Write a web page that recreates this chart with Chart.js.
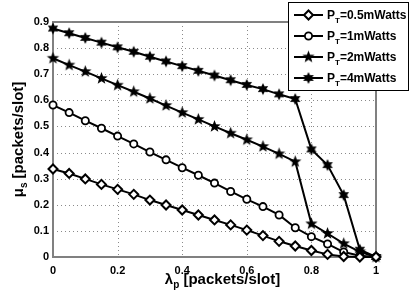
<!DOCTYPE html>
<html>
<head>
<meta charset="utf-8">
<script src="https://cdn.jsdelivr.net/npm/chart.js@4.4.1/dist/chart.umd.min.js"></script>
<style>
  html, body { margin: 0; padding: 0; background: #fff; }
  #wrap { width: 415px; height: 296px; }
</style>
</head>
<body>
<div id="wrap"><canvas id="c" width="415" height="296"></canvas></div>
<script>
// arrival rate of the primary user (x axis)
const lambdaP = [0, 0.05, 0.1, 0.15, 0.2, 0.25, 0.3, 0.35, 0.4, 0.45, 0.5,
  0.55, 0.6, 0.65, 0.7, 0.75, 0.8, 0.85, 0.9, 0.95, 1];

// service rate of the secondary user, one list per transmit power
const mu05 = [0.337, 0.320, 0.299, 0.278, 0.259, 0.240, 0.218, 0.199, 0.180, 0.161, 0.142,
  0.123, 0.103, 0.082, 0.060, 0.042, 0.025, 0.010, 0.002, 0, 0];
const mu1 = [0.582, 0.553, 0.522, 0.493, 0.463, 0.433, 0.402, 0.372, 0.342, 0.313, 0.283,
  0.251, 0.221, 0.193, 0.161, 0.112, 0.078, 0.050, 0.019, 0.005, 0];
const mu2 = [0.761, 0.735, 0.710, 0.684, 0.658, 0.633, 0.607, 0.580, 0.553, 0.527, 0.500,
  0.474, 0.449, 0.423, 0.395, 0.365, 0.127, 0.090, 0.051, 0.020, 0];
const mu4 = [0.875, 0.857, 0.839, 0.821, 0.803, 0.786, 0.767, 0.749, 0.731, 0.713, 0.695,
  0.677, 0.659, 0.643, 0.623, 0.605, 0.412, 0.352, 0.237, 0.028, 0];

const powerLabels = ['0.5mWatts', '1mWatts', '2mWatts', '4mWatts'];

const FONT = '"Liberation Sans", Arial, sans-serif';

// filled star markers (matlab 'p' and 'h')
function starMarker(points, outer, inner) {
  const size = Math.ceil(outer * 2 + 2);
  const cv = document.createElement('canvas');
  cv.width = size;
  cv.height = size;
  const g = cv.getContext('2d');
  g.translate(size / 2, size / 2);
  g.beginPath();
  for (let i = 0; i < points * 2; i += 1) {
    const r = i % 2 === 0 ? outer : inner;
    const a = -Math.PI / 2 + (i * Math.PI) / points;
    if (i === 0) g.moveTo(r * Math.cos(a), r * Math.sin(a));
    else g.lineTo(r * Math.cos(a), r * Math.sin(a));
  }
  g.closePath();
  g.fillStyle = '#000';
  g.fill();
  return cv;
}
const pentagram = starMarker(5, 6.5, 2.7);
const hexagram = starMarker(6, 6, 3.2);

function pts(ys) {
  return lambdaP.map((x, i) => ({ x, y: ys[i] }));
}

const baseDs = {
  borderColor: '#000',
  borderWidth: 2,
  pointBorderColor: '#000',
  tension: 0,
  clip: false,
};

const datasets = [
  { ...baseDs, label: powerLabels[0], data: pts(mu05), pointStyle: 'rectRot', pointRadius: 4.5, pointBorderWidth: 2, pointBackgroundColor: '#fff' },
  { ...baseDs, label: powerLabels[1], data: pts(mu1), pointStyle: 'circle', pointRadius: 3.6, pointBorderWidth: 1.8, pointBackgroundColor: '#fff' },
  { ...baseDs, label: powerLabels[2], data: pts(mu2), pointStyle: pentagram, pointRadius: 6 },
  { ...baseDs, label: powerLabels[3], data: pts(mu4), pointStyle: hexagram, pointRadius: 6 },
];

// draws text pieces with subscripts
function drawRich(ctx, parts, x, y, align) {
  let total = 0;
  parts.forEach((p) => {
    ctx.font = p.font;
    total += ctx.measureText(p.t).width;
  });
  let cx = align === 'center' ? x - total / 2 : x;
  parts.forEach((p) => {
    ctx.font = p.font;
    ctx.fillText(p.t, cx, y + (p.dy || 0));
    cx += ctx.measureText(p.t).width;
  });
}

const decorations = {
  id: 'decorations',
  beforeDatasetsDraw(chart) {
    const { ctx, chartArea: a } = chart;
    const xs = chart.scales.x;
    const ys = chart.scales.y;
    ctx.save();
    // dotted grid from the scale ticks
    ctx.strokeStyle = '#8a8a8a';
    ctx.lineWidth = 1;
    ctx.setLineDash([1, 3]);
    xs.ticks.forEach((t) => {
      const px = Math.round(xs.getPixelForValue(t.value)) + 0.5;
      ctx.beginPath();
      ctx.moveTo(px, a.top);
      ctx.lineTo(px, a.bottom);
      ctx.stroke();
    });
    ys.ticks.forEach((t) => {
      const py = Math.round(ys.getPixelForValue(t.value)) + 0.5;
      ctx.beginPath();
      ctx.moveTo(a.left, py);
      ctx.lineTo(a.right, py);
      ctx.stroke();
    });
    ctx.setLineDash([]);
    ctx.strokeStyle = '#808080';
    ctx.lineWidth = 2;
    ctx.strokeRect(a.left, a.top, a.right - a.left, a.bottom - a.top);
    ctx.restore();
  },
  afterDraw(chart) {
    const { ctx, chartArea: a } = chart;
    ctx.save();
    ctx.fillStyle = '#000';
    ctx.textBaseline = 'alphabetic';
    ctx.textAlign = 'left';
    const big = `bold 15px ${FONT}`;
    const sub = `bold 10px ${FONT}`;

    // x title
    drawRich(ctx, [
      { t: 'λ', font: big },
      { t: 'p', font: sub, dy: 4 },
      { t: ' [packets/slot]', font: big },
    ], (a.left + a.right) / 2 + 8, 284, 'center');

    // y title
    ctx.save();
    ctx.translate(23, (a.top + a.bottom) / 2);
    ctx.rotate(-Math.PI / 2);
    drawRich(ctx, [
      { t: 'μ', font: big },
      { t: 's', font: sub, dy: 4 },
      { t: ' [packets/slot]', font: big },
    ], 0, 0, 'center');
    ctx.restore();

    // legend
    const lx = 288.5;
    const ly = 2.5;
    ctx.fillStyle = '#fff';
    ctx.fillRect(lx, ly, 120, 88);
    ctx.strokeStyle = '#000';
    ctx.lineWidth = 1;
    ctx.strokeRect(lx, ly, 120, 88);
    chart.data.datasets.forEach((ds, i) => {
      const ry = 15 + i * 21;
      ctx.strokeStyle = '#000';
      ctx.lineWidth = 2;
      ctx.beginPath();
      ctx.moveTo(294, ry);
      ctx.lineTo(323, ry);
      ctx.stroke();
      const mx = 308.5;
      if (ds.pointStyle === 'rectRot') {
        ctx.beginPath();
        ctx.moveTo(mx, ry - 4.5);
        ctx.lineTo(mx + 4.5, ry);
        ctx.lineTo(mx, ry + 4.5);
        ctx.lineTo(mx - 4.5, ry);
        ctx.closePath();
        ctx.fillStyle = '#fff';
        ctx.fill();
        ctx.stroke();
      } else if (ds.pointStyle === 'circle') {
        ctx.beginPath();
        ctx.arc(mx, ry, 3.6, 0, Math.PI * 2);
        ctx.fillStyle = '#fff';
        ctx.fill();
        ctx.lineWidth = 1.8;
        ctx.stroke();
      } else {
        const img = ds.pointStyle;
        ctx.drawImage(img, mx - img.width / 2, ry - img.height / 2);
      }
      ctx.fillStyle = '#000';
      drawRich(ctx, [
        { t: 'P', font: `bold 12px ${FONT}` },
        { t: 'T', font: `bold 8px ${FONT}`, dy: 4 },
        { t: `=${ds.label}`, font: `bold 12px ${FONT}` },
      ], 327, ry + 4, 'left');
    });
    ctx.restore();
  },
};

const tickFmt = (v) => String(Number(v.toFixed(1)));

new Chart(document.getElementById('c'), {
  type: 'line',
  data: { datasets },
  options: {
    responsive: false,
    animation: false,
    layout: { padding: { left: 0, top: 22, right: 39, bottom: 0 } },
    plugins: {
      legend: { display: false },
      tooltip: { enabled: false },
    },
    scales: {
      x: {
        type: 'linear',
        min: 0,
        max: 1,
        afterFit(scale) { scale.height = 39; },
        grid: { display: false, drawTicks: false },
        border: { display: false },
        ticks: {
          stepSize: 0.2,
          padding: 7,
          color: '#000',
          callback: tickFmt,
          font: { family: FONT, size: 11, weight: 'bold' },
        },
      },
      y: {
        min: 0,
        max: 0.9,
        afterFit(scale) { scale.width = 53; },
        grid: { display: false, drawTicks: false },
        border: { display: false },
        ticks: {
          stepSize: 0.1,
          padding: 4,
          color: '#000',
          callback: tickFmt,
          font: { family: FONT, size: 11, weight: 'bold' },
        },
      },
    },
  },
  plugins: [decorations],
});
</script>
</body>
</html>
